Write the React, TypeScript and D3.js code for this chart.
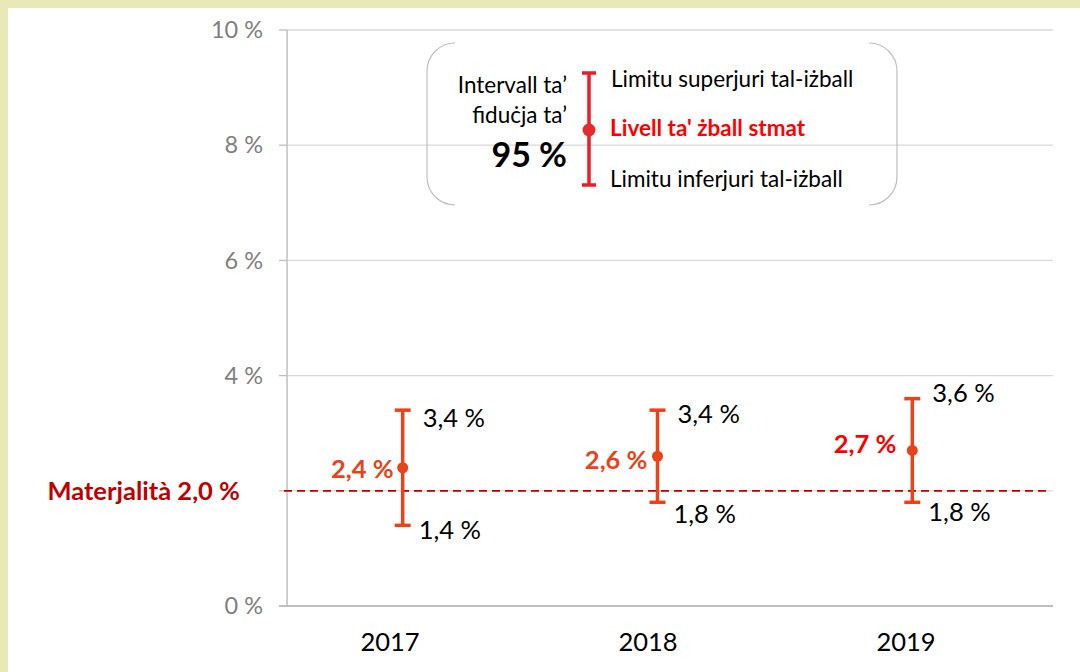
import React from "react";
import * as d3 from "d3";

const years = ["2017", "2018", "2019"];
const estimate = [2.4, 2.6, 2.7];
const lower = [1.4, 1.8, 1.8];
const upper = [3.4, 3.4, 3.6];
const estimateLabels = ["2,4 %", "2,6 %", "2,7 %"];
const lowerLabels = ["1,4 %", "1,8 %", "1,8 %"];
const upperLabels = ["3,4 %", "3,4 %", "3,6 %"];
const yTicks = [0, 2, 4, 6, 8, 10];
const yTickLabels = ["0 %", "", "4 %", "6 %", "8 %", "10 %"];
const materiality = 2.0;
const materialityLabel = "Materjalità 2,0 %";
const legendLeft = ["Intervall ta’", "fiduċja ta’"];
const legendLevel = "95 %";
const legendUpper = "Limitu superjuri tal-iżball";
const legendMid = "Livell ta' żball stmat";
const legendLower = "Limitu inferjuri tal-iżball";

// layout nudges for the manually placed data labels (pixels)
const upperNudge = [8, 4, -6];
const lowerNudge = [5, 12, 10];
const estNudge = [1, 4, -6];
const estGap = [9, 10, 16];

const W = 1080;
const H = 672;
const FONT = "Lato, 'Open Sans', sans-serif";
const BAR = "#e8431a";

export default function App() {
  const y = d3.scaleLinear().domain([0, 10]).range([606, 30]);
  const x = d3.scalePoint<string>().domain(years).range([402.7, 912.3]);
  const xl = d3.scaleBand<string>().domain(years).range([261, 1035]);
  const left = 287;
  const right = 1053;
  const cap = 8;

  const lg = { x0: 427, x1: 897, y0: 43, y1: 205, r: 28 };
  const lx = 589;
  const lTop = 73, lMid = 130, lBot = 185;

  const bracketPath = (side: "l" | "r") => {
    const { x0, x1, y0, y1, r } = lg;
    if (side === "l") {
      return `M${x0 + r},${y0} A${r},${r} 0 0 0 ${x0},${y0 + r} L${x0},${y1 - r} A${r},${r} 0 0 0 ${x0 + r},${y1}`;
    }
    return `M${x1 - r},${y0} A${r},${r} 0 0 1 ${x1},${y0 + r} L${x1},${y1 - r} A${r},${r} 0 0 1 ${x1 - r},${y1}`;
  };

  return (
    <svg
      width={W}
      height={H}
      style={{ position: "fixed", left: 0, top: 0, display: "block" }}
      fontFamily={FONT}
    >
      <rect x={0} y={0} width={W} height={H} fill="#e9e9b5" />
      <rect x={8} y={8} width={W - 8} height={H - 8} fill="#ffffff" />

      {yTicks.map((t) => (
        <g key={t}>
          {t > 0 && (
            <line x1={left} x2={right} y1={y(t)} y2={y(t)} stroke="#d9d9d9" strokeWidth={1.3} />
          )}
          <line x1={left - 8} x2={left} y1={y(t)} y2={y(t)} stroke="#bfbfbf" strokeWidth={1.3} />
        </g>
      ))}
      {yTicks.map((t, i) => (
        <text
          key={"l" + t}
          x={263}
          y={y(t)}
          dy="0.35em"
          textAnchor="end"
          fontSize={23.5}
          fill="#7f7f7f"
        >
          {yTickLabels[i]}
        </text>
      ))}
      <line x1={left} x2={left} y1={y(10)} y2={y(0)} stroke="#bfbfbf" strokeWidth={1.5} />
      <line x1={left - 8} x2={right} y1={y(0)} y2={y(0)} stroke="#bfbfbf" strokeWidth={2} />

      {years.map((yr) => (
        <text
          key={"x" + yr}
          x={(xl(yr) ?? 0) + xl.bandwidth() / 2}
          y={642.5}
          dy="0.35em"
          textAnchor="middle"
          fontSize={25.5}
          fill="#000"
        >
          {yr}
        </text>
      ))}

      <line
        x1={284}
        x2={1046}
        y1={y(materiality)}
        y2={y(materiality)}
        stroke="#c00000"
        strokeWidth={1.8}
        strokeDasharray="8,5"
      />
      <text
        x={240}
        y={y(materiality)}
        dy="0.35em"
        textAnchor="end"
        fontSize={25.5}
        fontWeight="bold"
        fill="#c00000"
      >
        {materialityLabel}
      </text>

      {years.map((yr, i) => {
        const cx = x(yr) ?? 0;
        return (
          <g key={"e" + yr}>
            <line x1={cx} x2={cx} y1={y(upper[i])} y2={y(lower[i])} stroke={BAR} strokeWidth={3.5} />
            <line x1={cx - cap} x2={cx + cap} y1={y(upper[i])} y2={y(upper[i])} stroke={BAR} strokeWidth={3.5} />
            <line x1={cx - cap} x2={cx + cap} y1={y(lower[i])} y2={y(lower[i])} stroke={BAR} strokeWidth={3.5} />
            <circle cx={cx} cy={y(estimate[i])} r={5.5} fill={BAR} />
            <text x={cx + 20} y={y(upper[i]) + upperNudge[i]} dy="0.35em" fontSize={25.5} fill="#000">
              {upperLabels[i]}
            </text>
            <text x={cx + 16} y={y(lower[i]) + lowerNudge[i]} dy="0.35em" fontSize={25.5} fill="#000">
              {lowerLabels[i]}
            </text>
            <text
              x={cx - estGap[i]}
              y={y(estimate[i]) + estNudge[i]}
              dy="0.35em"
              textAnchor="end"
              fontSize={25.5}
              fontWeight="bold"
              fill={i === 2 ? "#ff0000" : BAR}
            >
              {estimateLabels[i]}
            </text>
          </g>
        );
      })}

      <path d={bracketPath("l")} fill="none" stroke="#bfbfbf" strokeWidth={1.2} />
      <path d={bracketPath("r")} fill="none" stroke="#bfbfbf" strokeWidth={1.2} />
      <line x1={lx} x2={lx} y1={lTop} y2={lBot} stroke="#ee1c25" strokeWidth={3.5} />
      <line x1={lx - 7} x2={lx + 7} y1={lTop} y2={lTop} stroke="#ee1c25" strokeWidth={3.5} />
      <line x1={lx - 7} x2={lx + 7} y1={lBot} y2={lBot} stroke="#ee1c25" strokeWidth={3.5} />
      <circle cx={lx} cy={lMid} r={6.5} fill="#e52a30" />
      <text x={567} y={85} dy="0.35em" textAnchor="end" fontSize={22.5} fill="#000">
        {legendLeft[0]}
      </text>
      <text x={567} y={115} dy="0.35em" textAnchor="end" fontSize={22.5} fill="#000">
        {legendLeft[1]}
      </text>
      <text x={567} y={155} dy="0.35em" textAnchor="end" fontSize={34} fontWeight="bold" fill="#000">
        {legendLevel}
      </text>
      <text x={611} y={79} dy="0.35em" fontSize={22.5} fill="#000">
        {legendUpper}
      </text>
      <text x={610} y={128} dy="0.35em" fontSize={22.5} fontWeight="bold" fill="#ff0000">
        {legendMid}
      </text>
      <text x={610} y={179} dy="0.35em" fontSize={22.5} fill="#000">
        {legendLower}
      </text>
    </svg>
  );
}
